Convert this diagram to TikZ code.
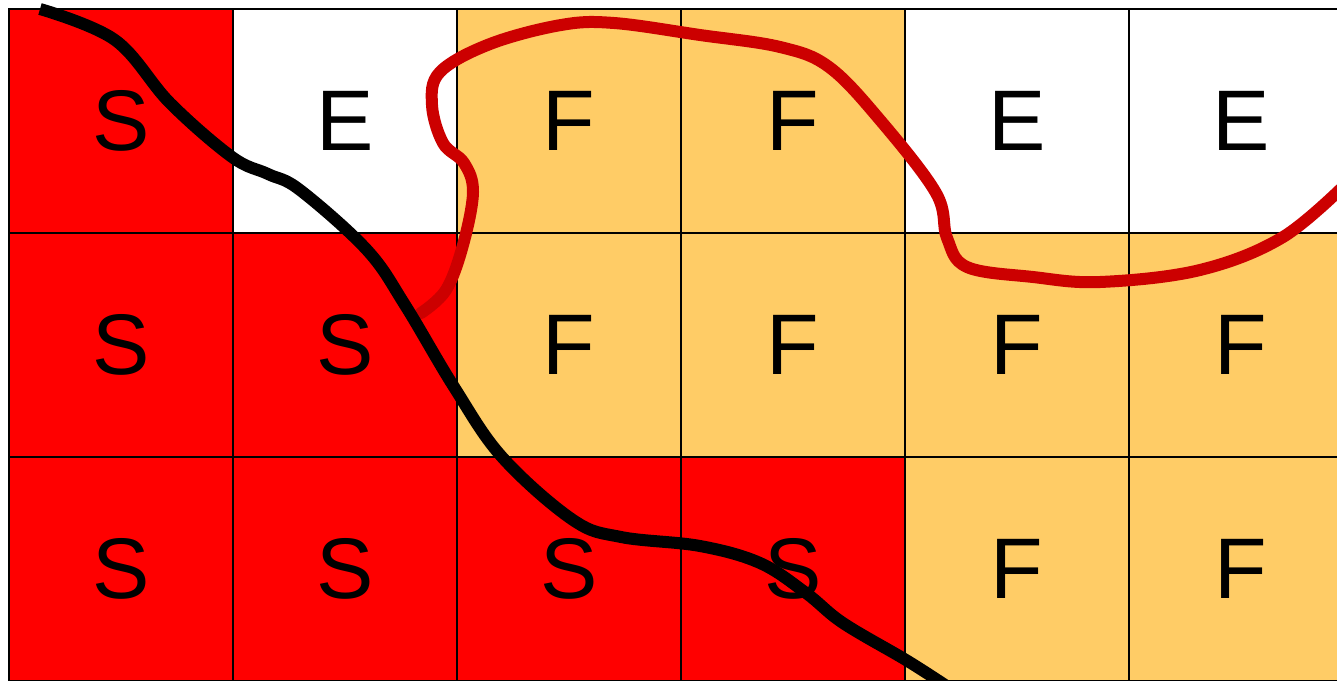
\documentclass[tikz,border=0pt]{standalone}
\usepackage{fontspec}
\setmainfont{Liberation Sans}
\usetikzlibrary{positioning}
\definecolor{sred}{HTML}{FF0000}
\definecolor{fsand}{HTML}{FFCC66}
\definecolor{wine}{HTML}{CC0000}
\tikzset{
  cell/.style={rectangle,draw=black,line width=2.2pt,minimum size=224pt,inner sep=0pt,
    font=\fontsize{86}{90}\selectfont},
  cellS/.style={cell,fill=sred},
  cellF/.style={cell,fill=fsand},
  cellE/.style={cell,fill=white},
  blackline/.style={black,line width=12pt},
  redline/.style={wine,line width=12pt,line cap=round},
}

\begin{document}
\begin{tikzpicture}[x=1pt,y=-1pt]
  \useasboundingbox (0,0) rectangle (1337,680);
  % grid of cells
  \foreach \r/\row in {1/{S,E,F,F,E,E},2/{S,S,F,F,F,F},3/{S,S,S,S,F,F}}{
    \foreach \k [count=\c] in \row
      \node[cell\k] (c-\r-\c) at ({121+224*(\c-1)},{121+224*(\r-1)}) {\k};
  }
  % boundaries
  \draw[redline] plot[smooth,tension=0.6] coordinates {
    (421,313) (446,290) (463,245) (473,192) (464,163) (443,143)
    (432,105) (440,72) (490,44) (561,25) (614,23)
    (700,35) (780,47) (829,67) (880,120) (936,193)
    (947,238) (967,267) (1033,277) (1100,282) (1200,270)
    (1283,237) (1350,180)};
  \draw[blackline] plot[smooth,tension=0.6] coordinates {
    (40,9) (115,40) (170,103) (232,157) (268,174) (300,190)
    (367,250) (405,305) (454,387) (502,457) (573,520)
    (621,537) (700,546) (760,563) (806,593) (843,623) (906,660)
    (945,685)};
\end{tikzpicture}
\end{document}
